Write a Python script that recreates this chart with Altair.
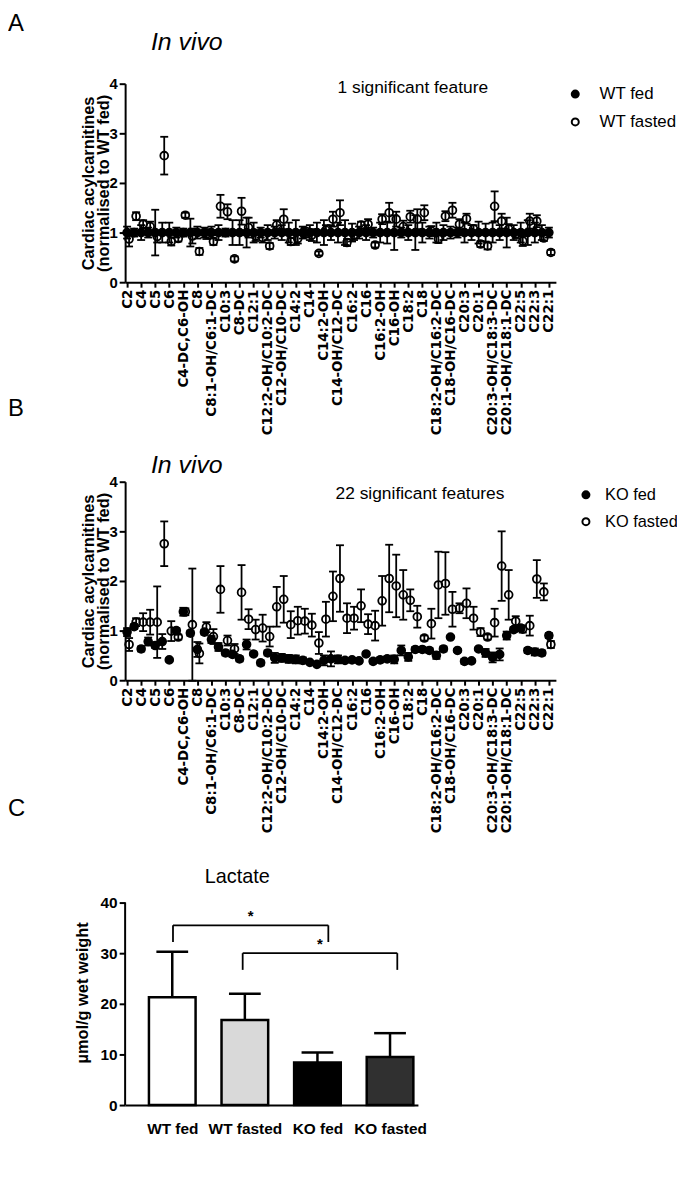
import json
import altair as alt
import pandas as pd

FONT = "Liberation Sans"
XFONT = "DejaVu Sans"

# ---------------- data ----------------
tick_labels = ["C2", "C4", "C5", "C6", "C4-DC,C6-OH", "C8", "C8:1-OH/C6:1-DC", "C10:3",
               "C8-DC", "C12:1", "C12:2-OH/C10:2-DC", "C12-OH/C10-DC", "C14:2", "C14",
               "C14:2-OH", "C14-OH/C12-DC", "C16:2", "C16", "C16:2-OH", "C16-OH", "C18:2",
               "C18", "C18:2-OH/C16:2-DC", "C18-OH/C16-DC", "C20:3", "C20:1",
               "C20:3-OH/C18:3-DC", "C20:1-OH/C18:1-DC", "C22:5", "C22:3", "C22:1"]

wt_fed_mean = [1.0, 1.0, 1.0, 1.0, 1.0, 1.0, 1.0, 1.0, 1.0, 1.0,
               1.0, 1.0, 1.0, 1.0, 1.0, 1.0, 1.0, 1.0, 1.0, 1.0,
               1.0, 1.0, 1.0, 1.0, 1.0, 1.0, 1.0, 1.0, 1.0, 1.0,
               1.0, 1.0, 1.0, 1.0, 1.0, 1.0, 1.0, 1.0, 1.0, 1.0,
               1.0, 1.0, 1.0, 1.0, 1.0, 1.0, 1.0, 1.0, 1.0, 1.0,
               1.0, 1.0, 1.0, 1.0, 1.0, 1.0, 1.0, 1.0, 1.0, 1.0, 1.0]
wt_fed_sd = [0.12, 0.08, 0.15, 0.10, 0.46, 0.20, 0.20, 0.10, 0.08, 0.28,
             0.12, 0.10, 0.12, 0.15, 0.08, 0.25, 0.25, 0.30, 0.20, 0.10,
             0.15, 0.12, 0.15, 0.20, 0.25, 0.12, 0.15, 0.20, 0.25, 0.15,
             0.20, 0.25, 0.18, 0.12, 0.15, 0.10, 0.20, 0.22, 0.35, 0.10,
             0.15, 0.35, 0.20, 0.12, 0.20, 0.15, 0.12, 0.10, 0.20, 0.15,
             0.22, 0.18, 0.20, 0.15, 0.30, 0.15, 0.20, 0.25, 0.20, 0.15, 0.10]
wt_fasted_mean = [0.87, 1.33, 1.17, 1.12, 0.92, 2.55, 0.82, 0.88, 1.35, 0.93,
                  0.62, 0.97, 0.82, 1.53, 1.42, 0.47, 1.43, 1.10, 0.93, 0.90,
                  0.73, 1.15, 1.27, 0.82, 0.88, 1.00, 0.95, 0.58, 1.05, 1.27,
                  1.40, 0.80, 0.95, 1.15, 1.17, 0.75, 1.27, 1.40, 1.27, 1.12,
                  1.32, 1.27, 1.40, 1.03, 0.87, 1.33, 1.45, 1.17, 1.28, 1.07,
                  0.77, 0.73, 1.53, 1.23, 1.07, 0.97, 0.83, 1.23, 1.23, 0.89, 0.60]
wt_fasted_sd = [0.15, 0.08, 0.08, 0.10, 0.12, 0.38, 0.08, 0.06, 0.05, 0.15,
                0.07, 0.10, 0.07, 0.23, 0.15, 0.05, 0.27, 0.20, 0.10, 0.10,
                0.06, 0.10, 0.20, 0.07, 0.10, 0.10, 0.12, 0.04, 0.10, 0.15,
                0.25, 0.07, 0.10, 0.07, 0.10, 0.05, 0.10, 0.20, 0.15, 0.12,
                0.12, 0.20, 0.15, 0.10, 0.08, 0.10, 0.15, 0.10, 0.10, 0.08,
                0.06, 0.07, 0.30, 0.15, 0.10, 0.08, 0.10, 0.15, 0.12, 0.06, 0.05]

ko_fed_mean = [0.97, 1.08, 0.63, 0.78, 0.70, 0.78, 0.41, 1.00, 1.38, 0.95,
               0.62, 0.97, 0.82, 0.67, 0.55, 0.52, 0.43, 0.72, 0.53, 0.35,
               0.55, 0.45, 0.45, 0.43, 0.42, 0.40, 0.36, 0.32, 0.40, 0.43,
               0.42, 0.40, 0.41, 0.39, 0.53, 0.38, 0.41, 0.43, 0.42, 0.60,
               0.47, 0.62, 0.62, 0.60, 0.50, 0.63, 0.87, 0.60, 0.38, 0.39,
               0.63, 0.55, 0.46, 0.52, 0.90, 1.02, 1.05, 0.60, 0.57, 0.55, 0.90]
ko_fed_sd = [0.08, 0.05, 0.05, 0.08, 0.05, 0.15, 0.03, 0.05, 0.08, 0.05,
             0.15, 0.05, 0.07, 0.08, 0.05, 0.05, 0.05, 0.10, 0.03, 0.05,
             0.05, 0.10, 0.08, 0.08, 0.08, 0.06, 0.03, 0.03, 0.10, 0.15,
             0.08, 0.04, 0.04, 0.03, 0.03, 0.04, 0.05, 0.05, 0.08, 0.10,
             0.08, 0.05, 0.05, 0.05, 0.07, 0.05, 0.03, 0.03, 0.05, 0.03,
             0.03, 0.08, 0.10, 0.12, 0.08, 0.05, 0.05, 0.05, 0.07, 0.05, 0.05]
ko_fasted_mean = [0.72, 1.17, 1.17, 1.17, 1.17, 2.75, 0.99, 0.87, 1.38, 1.12,
                  0.54, 1.07, 0.88, 1.83, 0.80, 0.63, 1.77, 1.23, 1.02, 1.05,
                  0.88, 1.48, 1.63, 1.12, 1.20, 1.19, 1.11, 0.75, 1.23, 1.69,
                  2.05, 1.25, 1.25, 1.50, 1.13, 1.10, 1.60, 2.05, 1.90, 1.72,
                  1.61, 1.28, 0.85, 1.14, 1.92, 1.95, 1.43, 1.45, 1.55, 1.25,
                  0.97, 0.87, 1.16, 2.30, 1.72, 1.19, 1.03, 1.10, 2.04, 1.78, 0.72]
ko_fasted_sd = [0.13, 0.08, 0.18, 0.25, 0.72, 0.45, 0.20, 0.05, 0.07, 1.13,
                0.20, 0.10, 0.15, 0.47, 0.10, 0.10, 0.55, 0.20, 0.20, 0.27,
                0.20, 0.40, 0.47, 0.27, 0.28, 0.25, 0.23, 0.22, 0.35, 0.50,
                0.67, 0.30, 0.23, 0.33, 0.20, 0.30, 0.50, 0.68, 0.63, 0.50,
                0.22, 0.22, 0.05, 0.30, 0.67, 0.63, 0.35, 0.10, 0.30, 0.23,
                0.08, 0.05, 0.28, 0.70, 0.50, 0.10, 0.07, 0.20, 0.38, 0.17, 0.07]

lactate_groups = ["WT fed", "WT fasted", "KO fed", "KO fasted"]
lactate_mean = [21.3, 16.8, 8.4, 9.5]
lactate_sd = [9.0, 5.2, 2.0, 4.7]
# significance brackets (positions in bar-index units, heights in µmol/g)
sig_start = [0.01, 0.97]
sig_end = [2.15, 3.10]
sig_top = [35.5, 30.0]
sig_leg = [32.2, 26.7]

# ---------------- helpers ----------------
def frame(means, sds, group):
    return pd.DataFrame({
        "idx": list(range(len(means))),
        "mean": means,
        "lo": [m - s for m, s in zip(means, sds)],
        "hi": [m + s for m, s in zip(means, sds)],
        "group": group,
    })


def txt(text, x, y, size, weight="normal", style="normal", align="left", baseline="alphabetic"):
    return alt.Chart(pd.DataFrame({"t": [text]})).mark_text(
        align=align, baseline=baseline, fontSize=size, font=FONT,
        fontWeight=weight, fontStyle=style, color="black"
    ).encode(text="t:N", x=alt.value(x), y=alt.value(y))


label_expr = json.dumps(tick_labels) + "[round(datum.value / 2)]"

W_AB, H_AB = 434, 200
LBL_X = 13.5     # rotated category labels
LBL_Y = 15       # y tick labels of panels A/B
TCK = 15.5
TTL = 16.5


def scatter_panel(fed_name, fas_name, fed_m, fed_s, fas_m, fas_s,
                  letter, letter_y, vivo_y, sig_text, sig_x, sig_y,
                  leg_x, leg_y, leg_off, leg_font, frame_anchor=False):
    fed = frame(fed_m, fed_s, fed_name)
    fas = frame(fas_m, fas_s, fas_name)
    xscale = alt.Scale(domain=[-0.28, 61.0], nice=False, zero=False)
    xaxis = alt.Axis(values=list(range(0, 61, 2)), labelExpr=label_expr, labelAngle=-90,
                     title=None, labelFont=XFONT, labelFontSize=LBL_X, labelFontWeight="bold",
                     tickSize=5, labelPadding=2, labelOverlap=False, labelFlush=False, labelLimit=400)
    yscale = alt.Scale(domain=[0, 4], nice=False)
    yaxis = alt.Axis(values=[0, 1, 2, 3, 4], title=["Cardiac acylcarnitines", "(normalised to WT fed)"],
                     labelFontSize=LBL_Y, labelFontWeight="bold", tickSize=6, labelPadding=2,
                     titleFontSize=TTL, titleFontWeight="bold", titlePadding=-3, titleLineHeight=16)
    X = alt.X("idx:Q", scale=xscale, axis=xaxis)

    layers = []
    for df, off in ((fed, 0.0), (fas, 2.0)):
        base = alt.Chart(df)
        layers.append(base.mark_rule(color="black", strokeWidth=1.8, xOffset=off).encode(
            x=X, y=alt.Y("lo:Q", scale=yscale, axis=yaxis), y2="hi:Q"))
        for fld in ("lo", "hi"):
            layers.append(base.mark_rule(color="black", strokeWidth=1.8,
                                         xOffset=off - 4, x2Offset=off + 4).encode(
                x=X, x2="idx:Q", y=alt.Y(f"{fld}:Q", scale=yscale, axis=yaxis)))
        layers.append(base.mark_point(shape="circle", filled=True, size=62, stroke="black",
                                      strokeWidth=1.8, opacity=1, xOffset=off).encode(
            x=X, y=alt.Y("mean:Q", scale=yscale, axis=yaxis),
            fill=alt.Fill("group:N",
                          scale=alt.Scale(domain=[fed_name, fas_name], range=["black", "transparent"]),
                          legend=alt.Legend(title=None, orient="none", legendX=leg_x, legendY=leg_y,
                                            labelFontSize=leg_font, labelFont=FONT, symbolSize=50,
                                            symbolStrokeColor="black", symbolStrokeWidth=2,
                                            symbolType="circle", labelOffset=leg_off, rowPadding=10,
                                            padding=0, labelColor="black"))))
    layers += [
        txt(letter, -118, letter_y, 24, baseline="top"),
        txt("In vivo", 26, vivo_y, 25, style="italic"),
        txt(sig_text, sig_x, sig_y, 17.5),
    ]
    if frame_anchor:
        # invisible rule fixing the page frame (top-left corner and right edge)
        layers.append(alt.Chart(pd.DataFrame({"a": [0]})).mark_rule(opacity=0, strokeWidth=0.01).encode(
            x=alt.value(-118), x2=alt.value(566), y=alt.value(-72)))
    return alt.layer(*layers).properties(width=W_AB, height=H_AB)


panel_a = scatter_panel("WT fed", "WT fasted", wt_fed_mean, wt_fed_sd, wt_fasted_mean, wt_fasted_sd,
                        "A", -72, -34, "1 significant feature", 214, 9,
                        445, 2, 16, 17, frame_anchor=True)
panel_b = scatter_panel("KO fed", "KO fasted", ko_fed_mean, ko_fed_sd, ko_fasted_mean, ko_fasted_sd,
                        "B", -85, -9, "22 significant features", 212, 17,
                        456, 5, 11, 16.5)

# ---------------- panel C ----------------
lac = pd.DataFrame({
    "idx": list(range(len(lactate_groups))),
    "group": lactate_groups,
    "mean": lactate_mean,
    "hi": [m + s for m, s in zip(lactate_mean, lactate_sd)],
})
sig = pd.DataFrame({"x1": sig_start, "x2": sig_end, "top": sig_top, "leg": sig_leg})
sig["mid"] = (sig["x1"] + sig["x2"]) / 2
sig["star"] = "*"

W_C, H_C = 295, 227
cx_scale = alt.Scale(domain=[-0.581, 3.316], nice=False, zero=False)
cy_scale = alt.Scale(domain=[0, 44.5], nice=False)
c_label_expr = json.dumps(lactate_groups) + "[round(datum.value)]"
cxaxis = alt.Axis(values=[0, 1, 2, 3], labelExpr=c_label_expr, labelAngle=0, title=None,
                  labelFontSize=TCK, labelFontWeight="bold", ticks=False, labelPadding=17,
                  labelFlush=False, labelOverlap=False)
cyaxis = alt.Axis(values=[0, 10, 20, 30, 40], title="µmol/g wet weight", domain=False,
                  labelFontSize=TCK, labelFontWeight="bold", tickSize=6, labelPadding=2,
                  titleFontSize=TTL, titleFontWeight="bold", titlePadding=10)
CX = alt.X("idx:Q", scale=cx_scale, axis=cxaxis)
CY = alt.Y("mean:Q", scale=cy_scale, axis=cyaxis)

cbase = alt.Chart(lac)
c_stem = cbase.mark_rule(color="black", strokeWidth=2.5).encode(x=CX, y=CY, y2="hi:Q")
c_cap = cbase.mark_rule(color="black", strokeWidth=2.5, xOffset=-16, x2Offset=16).encode(
    x=CX, x2="idx:Q", y=alt.Y("hi:Q", scale=cy_scale, axis=cyaxis))
c_bar = cbase.mark_bar(width=47, stroke="black", strokeWidth=2.5).encode(
    x=CX, y=CY,
    fill=alt.Fill("group:N", scale=alt.Scale(domain=lactate_groups,
                                             range=["white", "#d9d9d9", "black", "#303030"]),
                  legend=None))
c_yline = alt.Chart(pd.DataFrame({"a": [0]})).mark_rule(color="black", strokeWidth=2).encode(
    x=alt.value(0), y=alt.datum(0, scale=cy_scale), y2=alt.datum(40))

sbase = alt.Chart(sig)
s_h = sbase.mark_rule(color="black", strokeWidth=1.8).encode(
    x=alt.X("x1:Q", scale=cx_scale, axis=cxaxis), x2="x2:Q",
    y=alt.Y("top:Q", scale=cy_scale, axis=cyaxis))
s_l1 = sbase.mark_rule(color="black", strokeWidth=1.8).encode(
    x=alt.X("x1:Q", scale=cx_scale, axis=cxaxis),
    y=alt.Y("leg:Q", scale=cy_scale, axis=cyaxis), y2="top:Q")
s_l2 = sbase.mark_rule(color="black", strokeWidth=1.8).encode(
    x=alt.X("x2:Q", scale=cx_scale, axis=cxaxis),
    y=alt.Y("leg:Q", scale=cy_scale, axis=cyaxis), y2="top:Q")
s_star = sbase.mark_text(fontSize=15, font=FONT, fontWeight="bold", baseline="bottom", dy=-1).encode(
    x=alt.X("mid:Q", scale=cx_scale, axis=cxaxis),
    y=alt.Y("top:Q", scale=cy_scale, axis=cyaxis), text="star:N")

panel_c = alt.layer(
    c_stem, c_cap, c_bar, c_yline, s_h, s_l1, s_l2, s_star,
    txt("C", -118, -83, 24, baseline="top"),
    txt("Lactate", 113, 3, 20, align="center"),
).properties(width=W_C, height=H_C)

chart = alt.vconcat(panel_a, panel_b, panel_c, spacing=201, bounds="flush").resolve_scale(
    fill="independent").resolve_legend(fill="independent").properties(
    padding={"left": 0, "top": 0, "right": -10, "bottom": 5}
).configure_view(stroke=None).configure_axis(
    domainColor="black", domainWidth=2, tickColor="black", tickWidth=2, labelColor="black",
    titleColor="black", labelFont=FONT, titleFont=FONT, grid=False,
    labelFontWeight="bold")

chart.save("out.html", embed_options={"renderer": "svg", "actions": False})
